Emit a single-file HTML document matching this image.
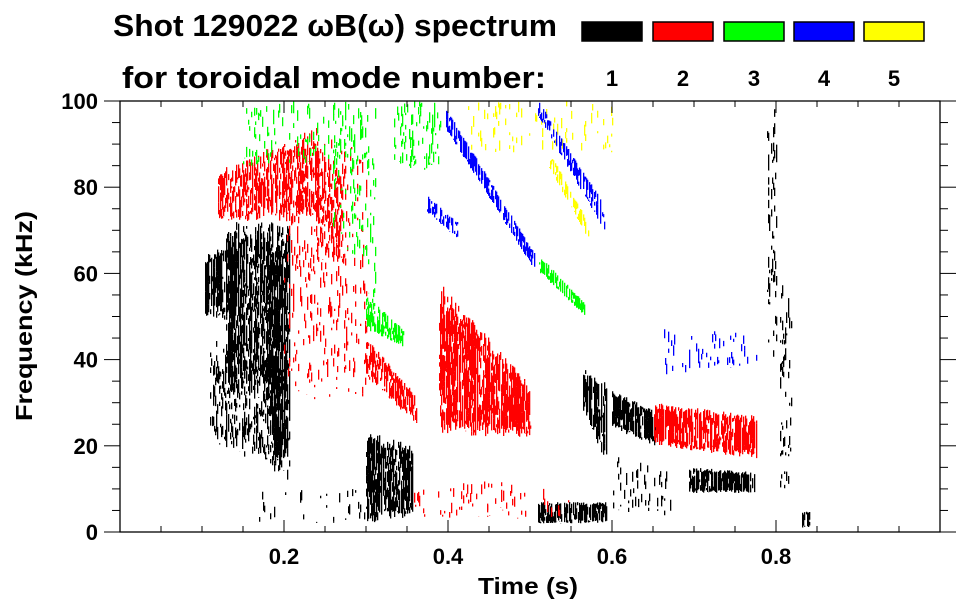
<!DOCTYPE html>
<html><head><meta charset="utf-8"><style>
body{margin:0;background:#fff;}
svg{display:block;font-family:"Liberation Sans",sans-serif;font-weight:bold;}
</style></head><body>
<svg id="chart" width="963" height="615" viewBox="0 0 963 615" xmlns="http://www.w3.org/2000/svg">
<text x="113" y="36" font-size="31" textLength="444" lengthAdjust="spacingAndGlyphs">Shot 129022 ωB(ω) spectrum</text>
<text x="122" y="88" font-size="31" textLength="424" lengthAdjust="spacingAndGlyphs">for toroidal mode number:</text>
<g id="legend"></g>
<g id="marks"></g>
<g id="axes"></g>
<text x="528" y="594" font-size="23" text-anchor="middle" textLength="100" lengthAdjust="spacingAndGlyphs">Time (s)</text>
<text transform="translate(32,316) rotate(-90)" font-size="23" text-anchor="middle" textLength="210" lengthAdjust="spacingAndGlyphs">Frequency (kHz)</text>
</svg>
<script>
// ---- data ----
const modeNumbers = [1,2,3,4,5];
const modeColors = ["#000000","#ff0000","#00ff00","#0000ff","#ffff00"];
const xTicks = [0.2,0.4,0.6,0.8];
const yTicks = [0,20,40,60,80,100];
// spectral features: mode, time start/end (s), freq low/high at start and end (kHz), fill density
const blobMode = [1,1,1,1,2,2,2,3,3,3,3,2,1,2,4,4,3,5,5,4,1,1,2,1,1,4,1,1,1,2,1,1,2];
const blobT0 = [0.104,0.13,0.18,0.11,0.12,0.2,0.24,0.15,0.26,0.3,0.335,0.3,0.3,0.39,0.398,0.375,0.512,0.42,0.524,0.51,0.565,0.6,0.652,0.695,0.51,0.66,0.79,0.805,0.832,0.35,0.6,0.17,0.4];
const blobT1 = [0.14,0.185,0.205,0.2,0.24,0.3,0.27,0.3,0.31,0.345,0.39,0.36,0.355,0.5,0.504,0.41,0.567,0.6,0.57,0.59,0.592,0.652,0.775,0.772,0.592,0.78,0.8,0.818,0.84,0.55,0.67,0.3,0.48];
const blobLo0 = [50,32,15,20,72,30,62,85,70,47,85,36,2,22,93,74,60,88,84,96,28,24,20,9,2,36,40,5,1,3,5,2,5];
const blobHi0 = [64,72,72,46,84,92,90,100,100,55,100,45,24,58,98,78,64,100,88,100,38,33,30,15,7,48,100,60,5,10,18,10,12];
const blobLo1 = [47,30,10,14,72,30,62,85,50,43,82,25,3,22,61,68,50,88,68,70,16,20,17,9,2,38,40,5,1,3,3,2,5];
const blobHi1 = [70,72,72,40,94,95,85,100,100,47,100,32,20,34,65,72,53,100,72,76,35,28,27,14,7,46,100,60,5,10,14,10,12];
const blobDensity = [0.9,0.8,0.8,0.3,0.6,0.12,0.4,0.1,0.12,0.65,0.25,0.7,0.85,0.85,0.75,0.5,0.75,0.06,0.5,0.45,0.85,0.9,0.85,0.9,0.7,0.08,0.25,0.2,0.7,0.05,0.12,0.04,0.08];

// ---- axes ----
const X0=120, X1=940, Y0=532, Y1=101;
const xScale = t => X0 + (t-0)/(1.0-0)*(X1-X0);
const yScale = f => Y0 - (f-0)/(100-0)*(Y0-Y1);
const NS="http://www.w3.org/2000/svg";
function mk(tag, attrs, parent){const e=document.createElementNS(NS,tag);for(const k in attrs)e.setAttribute(k,attrs[k]);parent.appendChild(e);return e;}

// legend
const lg=document.getElementById('legend');
const boxX=[582,653,724,794,864];
modeNumbers.forEach((m,i)=>{
  const r=mk('rect',{x:boxX[i],y:22,width:60,height:19,fill:modeColors[i],stroke:'#000','stroke-width':1.5},lg);
  
  
  const t=mk('text',{x:boxX[i]+30,y:86,'font-size':22,'text-anchor':'middle'},lg);
  t.textContent=String(m);
  
  
});

// marks: deterministic texture generator
let seed=12345;
function rnd(){seed=(seed*1103515245+12345)%2147483648;return seed/2147483648;}
const mg=document.getElementById('marks');
for(let b=0;b<blobMode.length;b++){
  const xa=xScale(blobT0[b]), xb=xScale(blobT1[b]);
  let d='';
  for(let x=Math.floor(xa);x<=Math.ceil(xb);x++){
    const u=(xb>xa)?Math.min(1,Math.max(0,(x-xa)/(xb-xa))):0;
    const lo=blobLo0[b]+(blobLo1[b]-blobLo0[b])*u;
    const hi=blobHi0[b]+(blobHi1[b]-blobHi0[b])*u;
    const span=hi-lo;
    const yTop=yScale(hi - span*0.15*rnd()), yBot=yScale(lo + span*0.15*rnd());
    const colF = rnd()<0.8?1:0.35;
    let y=yTop;
    while(y<yBot){
      const len=2+rnd()*9;
      const h=Math.min(len,yBot-y);
      if(rnd()<blobDensity[b]*colF) d+='M'+x+' '+y.toFixed(1)+'h1.3v'+h.toFixed(1)+'h-1.3z';
      y+=len;
    }
  }
  const p=mk('path',{d:d,fill:modeColors[blobMode[b]-1]},mg);
  
  
}

// axes frame and ticks
const ax=document.getElementById('axes');
const frame=mk('rect',{x:X0,y:Y1,width:X1-X0,height:Y0-Y1,fill:'none',stroke:'#000','stroke-width':1.3},ax);


for(let t=0.05;t<1.0;t+=0.05){
  const x=xScale(t); const major=Math.abs(t*5-Math.round(t*5))<1e-6;
  const L=major?12:6;
  mk('line',{x1:x,x2:x,y1:Y0,y2:Y0-L,stroke:'#000','stroke-width':1},ax);
  mk('line',{x1:x,x2:x,y1:Y1,y2:Y1+L,stroke:'#000','stroke-width':1},ax);
}
for(let f=0;f<=100;f+=5){
  const y=yScale(f); const major=f%20===0;
  const L=major?16:8;
  mk('line',{x1:X0,x2:X0-L,y1:y,y2:y,stroke:'#000','stroke-width':1},ax);
  mk('line',{x1:X1,x2:X1+L,y1:y,y2:y,stroke:'#000','stroke-width':1},ax);
}
xTicks.forEach(t=>{
  const e=mk('text',{x:xScale(t),y:564,'font-size':22,'text-anchor':'middle'},ax);
  e.textContent=t.toFixed(1);
  
  
});
yTicks.forEach(f=>{
  const e=mk('text',{x:98,y:yScale(f)+8,'font-size':22,'text-anchor':'end'},ax);
  e.textContent=String(f);
  
  
});
</script>
</body></html>
